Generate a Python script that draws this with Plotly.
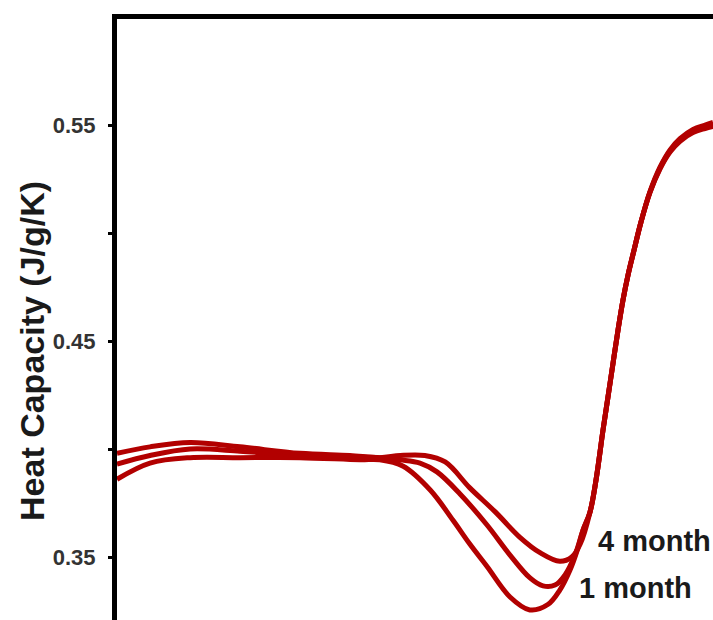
import plotly.graph_objects as go

# ---- data (x: temperature-like axis, hidden; y: heat capacity J/g/K) ----
rise_x = [18.83, 19.83, 21.0, 21.83, 22.67, 23.5, 24.33, 25.17, 26.17, 27.33, 28.83, 30.5, 32.17, 33.83, 36.0, 38.0, 39.33]
rise_y = [0.3708, 0.3856, 0.4088, 0.4241, 0.4398, 0.4551, 0.4690, 0.4806, 0.4921, 0.5051, 0.5190, 0.5301, 0.5380, 0.5431, 0.5472, 0.5491, 0.5500]

x_4month = [-60, -54.5, -47.8, -39.5, -29.5, -21.2, -16.2, -12.8, -8.7, -5.3, -1.2, 3.0, 7.2, 10.5, 13.8, 15.8, 17.2,
            18.83, 19.83, 21.0, 21.83, 22.67, 23.5, 24.33, 25.17, 26.17, 27.33, 28.83, 30.5, 32.17, 33.83, 36.0, 38.0, 39.33]
y_4month = [0.398, 0.401, 0.403, 0.401, 0.398, 0.397, 0.396, 0.397, 0.397, 0.394, 0.382, 0.371, 0.359, 0.352, 0.348, 0.350, 0.356,
            0.3708, 0.3856, 0.4088, 0.4241, 0.4398, 0.4551, 0.4690, 0.4806, 0.4921, 0.5051, 0.5192, 0.5305, 0.5385, 0.5437, 0.5480, 0.5500, 0.5512]

x_1month = [-60, -54.5, -47.8, -39.5, -29.5, -16.2, -12.8, -9.5, -6.67, -2.83, 1.67, 5.5, 8.83, 11.0, 13.0, 14.67, 16.33,
            17.67, 18.83, 19.83, 21.0, 21.83, 22.67, 23.5, 24.33, 25.17, 26.17, 27.33, 28.83, 30.5, 32.17, 33.83, 36.0, 38.0, 39.33]
y_1month = [0.393, 0.397, 0.400, 0.399, 0.397, 0.396, 0.395, 0.3935, 0.3894, 0.3792, 0.3648, 0.3509, 0.3403, 0.3366, 0.3370, 0.3417, 0.3509,
            0.3625, 0.3708, 0.3856, 0.4088, 0.4241, 0.4398, 0.4551, 0.4690, 0.4806, 0.4921, 0.5051, 0.5190, 0.5301, 0.5380, 0.5431, 0.5472, 0.5491, 0.5500]

x_fresh = [-60, -54.5, -47.8, -39.5, -29.5, -19.5, -16.2, -12.3, -7.8, -4.0, -1.2, 1.7, 5.5, 8.8, 11.8, 13.8, 15.5, 16.8,
           17.67, 18.83, 19.83, 21.0, 21.83, 22.67, 23.5, 24.33, 25.17, 26.17, 27.33, 28.83, 30.5, 32.17, 33.83, 36.0, 38.0, 39.33]
y_fresh = [0.386, 0.3935, 0.396, 0.396, 0.396, 0.395, 0.395, 0.392, 0.381, 0.367, 0.356, 0.3455, 0.3315, 0.3255, 0.328, 0.3347, 0.344, 0.354,
           0.3625, 0.3708, 0.3856, 0.4088, 0.4241, 0.4398, 0.4551, 0.4690, 0.4806, 0.4921, 0.5051, 0.5188, 0.5297, 0.5375, 0.5425, 0.5465, 0.5484, 0.5494]

tick_vals = [0.35, 0.40, 0.45, 0.50, 0.55]
tick_text = ["0.35", "", "0.45", "", "0.55"]
y_title = "Heat Capacity (J/g/K)"
labels = ["4 month", "1 month"]
label_x = [19.8, 16.6]
label_y = [0.3574, 0.3356]

RED = "#B20000"
FONT = "Arial, Liberation Sans, sans-serif"

fig = go.Figure()
for name, xs, ys in [("fresh", x_fresh, y_fresh), ("1 month", x_1month, y_1month), ("4 month", x_4month, y_4month)]:
    fig.add_trace(go.Scatter(x=xs, y=ys, mode="lines", name=name,
                             line=dict(color=RED, width=5, shape="spline", smoothing=1.0)))

for t, lx, ly in zip(labels, label_x, label_y):
    fig.add_annotation(x=lx, y=ly, xref="x", yref="y", text=t, showarrow=False,
                       xanchor="left", yanchor="middle",
                       font=dict(family=FONT, size=29, color="#1a1a1a", weight="bold"))

fig.add_annotation(x=0, y=0.4476, xref="paper", yref="paper", xshift=-85, text=y_title,
                   textangle=-90, showarrow=False, xanchor="center", yanchor="middle",
                   font=dict(family=FONT, size=34, color="#1a1a1a", weight="bold"))

fig.update_layout(
    width=713, height=620,
    margin=dict(l=117, r=0, t=19, b=0),
    paper_bgcolor="white", plot_bgcolor="white",
    showlegend=False,
    xaxis=dict(range=[-60, 39.33], side="top", showline=True, linewidth=5, linecolor="black",
               ticks="", showticklabels=False, showgrid=False, zeroline=False),
    yaxis=dict(range=[0.32083, 0.5991], showline=True, linewidth=5, linecolor="black",
               ticks="outside", ticklen=4, tickwidth=3, tickcolor="black",
               tickvals=tick_vals, ticktext=tick_text, ticklabelstandoff=8,
               tickfont=dict(family=FONT, size=22, color="#333333", weight="bold"),
               showgrid=False, zeroline=False),
)

fig.write_html("out.html")
